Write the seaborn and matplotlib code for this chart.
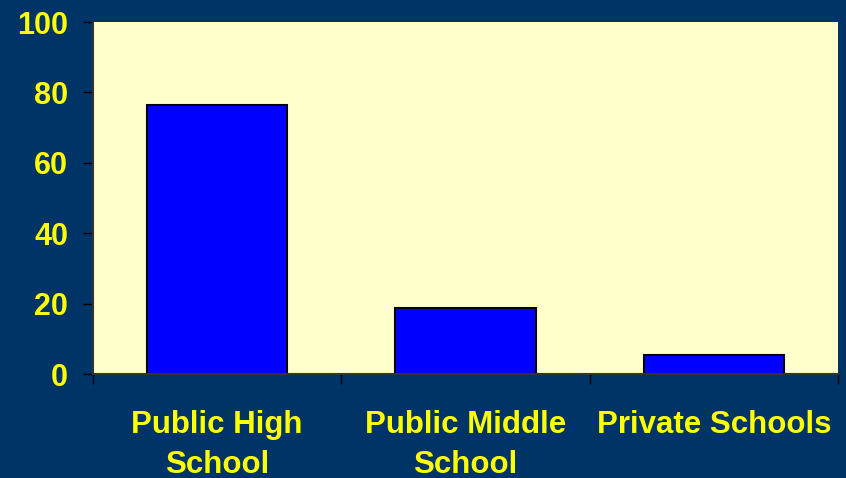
import matplotlib
matplotlib.use("Agg")
import matplotlib.pyplot as plt
import seaborn as sns
import pandas as pd

categories = ["Public High\nSchool", "Public Middle\nSchool", "Private Schools"]
values = [76.4, 18.7, 5.5]
yticks = [0, 20, 40, 60, 80, 100]

sns.set_style("white")
plt.rcParams['font.family'] = ['Liberation Sans', 'DejaVu Sans']

navy = "#003366"
yellow = "#FFFF00"

df = pd.DataFrame({"cat": categories, "val": values})

fig = plt.figure(figsize=(8.46, 4.78), dpi=100, facecolor=navy)
ax = fig.add_axes([93/846, 1-374/478, (838-93)/846, (374-22)/478])
ax.set_facecolor("#FFFFCC")

sns.barplot(data=df, x="cat", y="val", ax=ax, color="#0000FF", saturation=1,
            width=0.564, edgecolor="black", linewidth=1.5)

ax.set_xlim(-0.5, 2.5)
ax.set_ylim(0, 100)
ax.set_yticks(yticks)
ax.set_xlabel("")
ax.set_ylabel("")

# category labels between boundary ticks
ax.set_xticks([-0.5, 0.5, 1.5, 2.5])
ax.set_xticklabels([])
ax.set_xticks([0, 1, 2], minor=True)
ax.set_xticklabels(categories, minor=True, fontsize=22.5, fontweight="bold",
                   color=yellow, linespacing=1.45)
ax.tick_params(axis="x", which="major", direction="out", length=7, width=1,
               color="black", bottom=True)
ax.tick_params(axis="x", which="minor", length=0, pad=26)
ax.tick_params(axis="y", direction="out", length=7, width=1, color="black",
               left=True, pad=11, labelsize=22, labelcolor=yellow)
for lab in ax.get_yticklabels():
    lab.set_fontweight("bold")

for s in ["top", "right"]:
    ax.spines[s].set_visible(False)
for s in ["left", "bottom"]:
    ax.spines[s].set_color("#333333")
    ax.spines[s].set_linewidth(1.5)

fig.savefig("out.png", dpi=100, facecolor=navy)
